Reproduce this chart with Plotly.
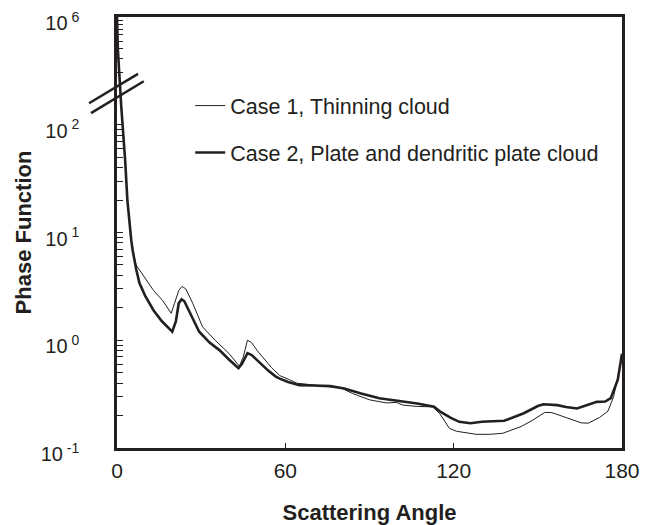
import math
import plotly.graph_objects as go

# ---- data ----
angle_case1 = [0, 0.3, 0.8, 1.25, 1.5, 2.9, 3.7, 5.1, 5.6, 6.8, 8, 10, 13, 16.2, 19.3, 20.5, 22, 23.2,
               24.5, 27, 30.5, 35, 40, 43.6, 45, 46.5, 48, 50, 52, 55, 58, 60.2, 61.5, 64, 70, 76, 80,
               84, 90, 96, 99.5, 102, 107, 112.5, 115, 118.5, 121, 128, 133, 137.5, 144, 148, 152.5,
               155, 159, 165.5, 168, 172, 175, 177, 178.5, 180]
phase_case1 = [1e6, 4e5, 2e5, 1e5, 150, 47, 20, 8.4, 6.8, 5.0, 4.5, 3.7, 2.9, 2.35, 1.78, 2.2, 2.9, 3.16,
               3.0, 2.2, 1.33, 1.0, 0.75, 0.575, 0.7, 1.0, 0.95, 0.8, 0.70, 0.56, 0.47, 0.44, 0.43, 0.40,
               0.385, 0.375, 0.36, 0.32, 0.28, 0.262, 0.265, 0.25, 0.243, 0.241, 0.209, 0.152, 0.143,
               0.134, 0.134, 0.137, 0.158, 0.18, 0.214, 0.213, 0.195, 0.171, 0.17, 0.192, 0.22, 0.3,
               0.45, 0.72]

angle_case2 = [0, 0.3, 0.8, 1.25, 1.5, 2.9, 3.7, 5.1, 5.6, 6.8, 8, 10, 13, 16, 19.7, 21, 22, 23, 24, 26,
               29.3, 33, 36.5, 40, 43.3, 44.5, 46.5, 48, 51, 54, 56.6, 58, 61, 65, 70, 76, 81, 87, 93.5,
               99, 107, 113, 115.5, 119, 122, 126, 130, 138, 145, 150, 152, 157, 160, 164, 168, 171,
               174, 176, 178.5, 180]
phase_case2 = [1e6, 4e5, 2e5, 1e5, 150, 47, 20, 8.4, 6.8, 4.6, 3.4, 2.6, 1.9, 1.5, 1.2, 1.5, 2.2, 2.4,
               2.3, 1.8, 1.2, 0.95, 0.81, 0.66, 0.55, 0.6, 0.76, 0.73, 0.61, 0.52, 0.46, 0.44, 0.41,
               0.383, 0.38, 0.375, 0.357, 0.32, 0.29, 0.278, 0.259, 0.241, 0.215, 0.19, 0.175, 0.17,
               0.175, 0.179, 0.21, 0.245, 0.255, 0.25, 0.24, 0.233, 0.25, 0.268, 0.27, 0.29, 0.43, 0.75]

x_ticks = [0, 60, 120, 180]
y_major_exp = [-1, 0, 1, 2, 6]

# ---- broken log axis transform ----
UPPER_SCALE = 80 / 107.75          # upper segment (10^5..10^6) is compressed
BREAK_T = 3 - UPPER_SCALE          # where 10^5 sits on the transformed axis


def tr(v):
    lv = math.log10(v)
    if lv >= 5:
        return 3 - (6 - lv) * UPPER_SCALE
    return min(lv, BREAK_T)


INK = "#231f20"
FONT = "Liberation Sans, Arial, sans-serif"

fig = go.Figure()
fig.add_trace(go.Scatter(x=angle_case1, y=[tr(v) for v in phase_case1], mode="lines",
                         name="Case 1, Thinning cloud", legendgroup="a",
                         line=dict(color=INK, width=1)))
fig.add_trace(go.Scatter(x=angle_case2, y=[tr(v) for v in phase_case2], mode="lines",
                         name="Case 2, Plate and dendritic plate cloud", legendgroup="b",
                         line=dict(color=INK, width=2.6)))

minor_vals = []
for n in (-1, 0, 1):
    for k in range(2, 10):
        minor_vals.append(tr(k * 10 ** n))
for k in range(2, 10):
    minor_vals.append(tr(k * 1e5))

fig.update_layout(
    width=653, height=525,
    margin=dict(l=117, r=31, t=17, b=77, autoexpand=False),
    paper_bgcolor="white", plot_bgcolor="white",
    font=dict(family=FONT, color=INK),
    showlegend=True,
    legend=dict(x=0.145, y=0.842, xanchor="left", yanchor="top",
                bgcolor="rgba(0,0,0,0)", font=dict(size=21.5, family=FONT, color=INK),
                traceorder="grouped", tracegroupgap=16),
    xaxis=dict(range=[0, 180], tickvals=x_ticks, ticktext=[str(t) for t in x_ticks],
               ticks="inside", ticklen=5, tickwidth=1, tickcolor=INK,
               showline=True, linecolor=INK, linewidth=2.5, mirror=True,
               showgrid=False, zeroline=False,
               tickfont=dict(size=21, family=FONT, color=INK), ticklabelstandoff=2,
               title=dict(text="<b>Scattering Angle</b>", font=dict(size=22, family=FONT, color=INK),
                          standoff=24),
               automargin=False),
    yaxis=dict(range=[-1, 3],
               tickvals=[tr(10 ** e) for e in y_major_exp],
               ticktext=["10<sup> %d</sup>" % e for e in y_major_exp],
               ticks="inside", ticklen=6, tickwidth=1, tickcolor=INK,
               minor=dict(tickvals=minor_vals, ticks="inside", ticklen=6, tickwidth=1, tickcolor=INK),
               showline=True, linecolor=INK, linewidth=2.5, mirror=True,
               showgrid=False, zeroline=False,
               tickfont=dict(size=20, family=FONT, color=INK), ticklabelstandoff=31,
               ticklabelshift=6,
               title=dict(text="<b>Phase Function</b>", font=dict(size=22, family=FONT, color=INK),
                          standoff=3),
               automargin=False),
)

# axis break marks
for (x0, y0, x1, y1) in [(-0.0554, 0.800, 0.0416, 0.868), (-0.0515, 0.777, 0.053, 0.851)]:
    fig.add_shape(type="line", xref="paper", yref="paper", x0=x0, y0=y0, x1=x1, y1=y1,
                  line=dict(color=INK, width=2.5))

fig.write_html("out.html")
